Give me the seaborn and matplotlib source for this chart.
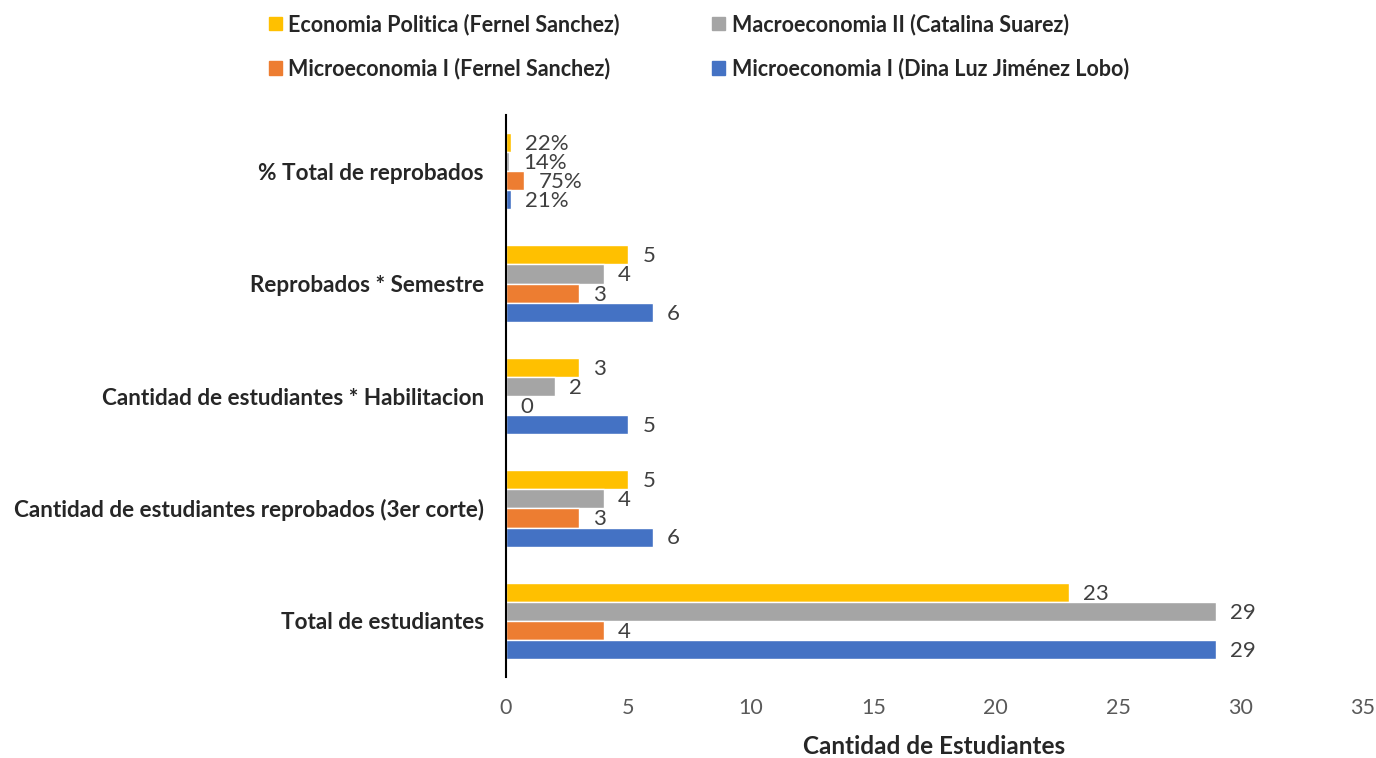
import numpy as np
import pandas as pd
import matplotlib
matplotlib.use("Agg")
import matplotlib.pyplot as plt
import seaborn as sns
from matplotlib.patches import Patch

categories = [
    "% Total de reprobados",
    "Reprobados * Semestre",
    "Cantidad de estudiantes * Habilitacion",
    "Cantidad de estudiantes reprobados (3er corte)",
    "Total de estudiantes",
]
series = [
    "Economia Politica (Fernel Sanchez)",
    "Macroeconomia II (Catalina Suarez)",
    "Microeconomia I (Fernel Sanchez)",
    "Microeconomia I (Dina Luz Jiménez Lobo)",
]
economia = [0.22, 5, 3, 5, 23]
macro = [0.14, 4, 2, 4, 29]
micro_fernel = [0.75, 3, 0, 3, 4]
micro_dina = [0.21, 6, 5, 6, 29]
colors = ["#FFC000", "#A5A5A5", "#ED7D31", "#4472C4"]

rows = []
for s, vals in zip(series, [economia, macro, micro_fernel, micro_dina]):
    for c, v in zip(categories, vals):
        rows.append({"cat": c, "serie": s, "val": v})
df = pd.DataFrame(rows)

sns.set_style("white")
plt.rcParams["font.family"] = ["Lato", "DejaVu Sans"]

fig = plt.figure(figsize=(13.76, 7.58), dpi=100)
ax = fig.add_axes([506 / 1376, 1 - 677 / 758, (1363 - 506) / 1376, (677 - 115) / 758])

sns.barplot(data=df, y="cat", x="val", hue="serie", order=categories,
            hue_order=series, palette=colors, orient="h", width=0.68,
            saturation=1, ax=ax, legend=False, errorbar=None)

for cont in ax.containers:
    for bar in cont:
        w = bar.get_width()
        yc = bar.get_y() + bar.get_height() / 2
        txt = f"{w*100:.0f}%" if w < 1 and w > 0 else f"{w:.0f}"
        ax.annotate(txt, (w, yc), xytext=(10, -1), textcoords="offset points",
                    ha="left", va="center", fontsize=16, color="#404040")

ax.set_xlim(0, 35)
ax.set_xticks(np.arange(0, 36, 5))
ax.tick_params(axis="x", labelsize=15.5, labelcolor="#595959", length=0, pad=15)
ax.tick_params(axis="y", labelsize=16.2, length=0, pad=16)
for lbl in ax.get_yticklabels():
    lbl.set_fontweight("bold")
ax.set_ylabel("")
ax.set_xlabel("Cantidad de Estudiantes", fontsize=17.5, fontweight="bold", labelpad=12)
for sp in ["top", "right", "bottom"]:
    ax.spines[sp].set_visible(False)
ax.spines["left"].set_color("black")
ax.spines["left"].set_linewidth(1.5)

handles = [Patch(color=c) for c in colors]
order = [0, 2, 1, 3]
fig.legend([handles[i] for i in order], [series[i] for i in order], ncol=2,
           loc="upper center", bbox_to_anchor=(0.508, 1.008), frameon=False,
           prop={"weight": "bold", "size": 15.5}, handlelength=0.6,
           handleheight=0.6, handletextpad=0.3, columnspacing=4.3, labelspacing=1.05)

fig.savefig("out.png", dpi=100)
